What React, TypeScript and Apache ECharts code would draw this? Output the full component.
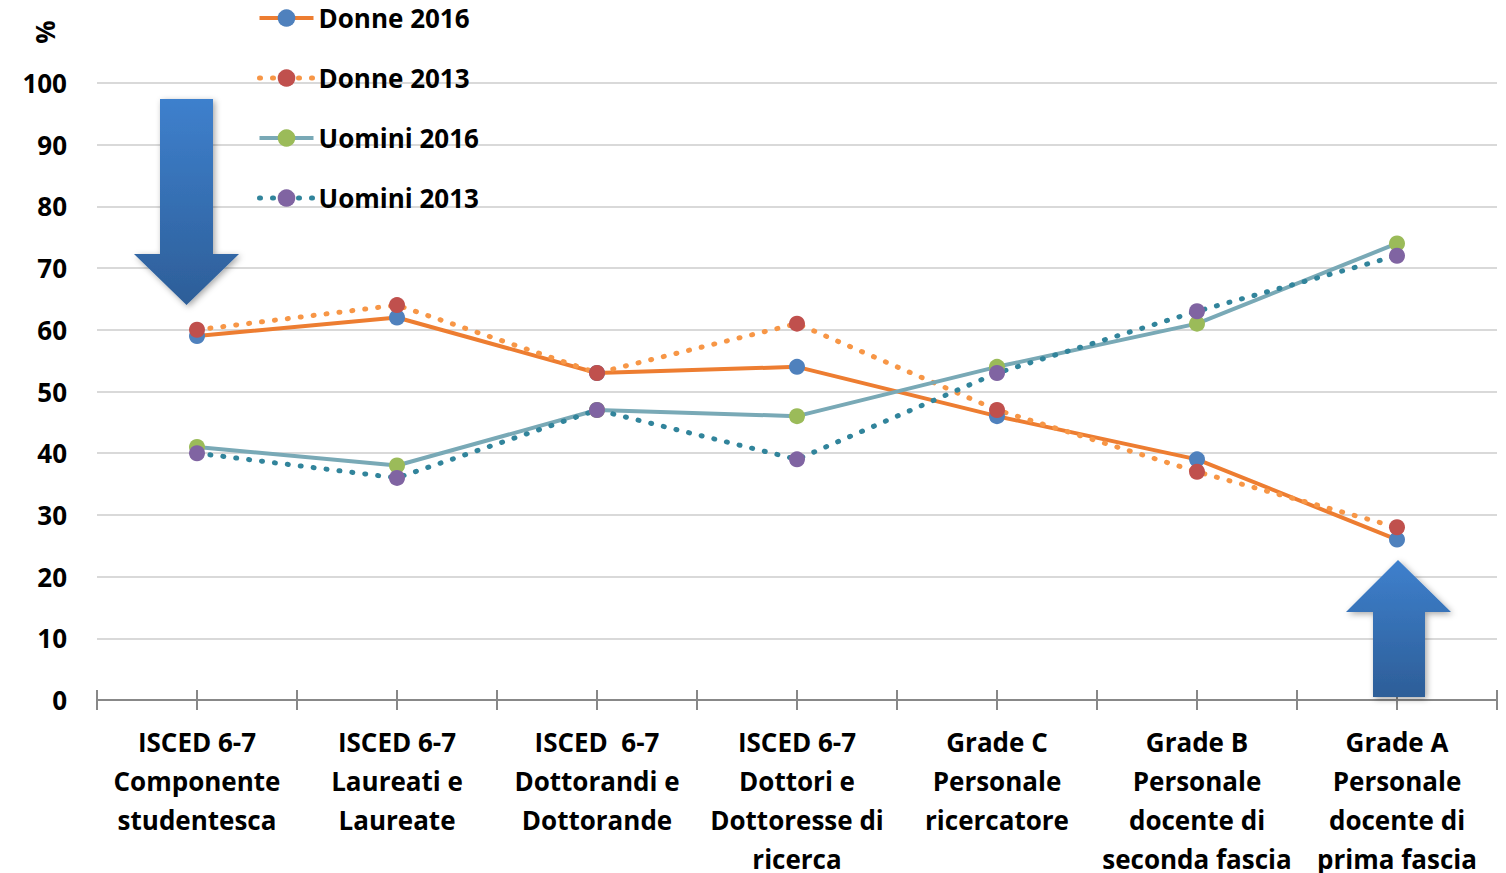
import React, { useEffect, useRef } from "react";
import * as echarts from "echarts";

const categories = [
  "ISCED 6-7\nComponente\nstudentesca",
  "ISCED 6-7\nLaureati e\nLaureate",
  "ISCED  6-7\nDottorandi e\nDottorande",
  "ISCED 6-7\nDottori e\nDottoresse di\nricerca",
  "Grade C\nPersonale\nricercatore",
  "Grade B\nPersonale\ndocente di\nseconda fascia",
  "Grade A\nPersonale\ndocente di\nprima fascia",
];
const donne2016 = [59, 62, 53, 54, 46, 39, 26];
const donne2013 = [60, 64, 53, 61, 47, 37, 28];
const uomini2016 = [41, 38, 47, 46, 54, 61, 74];
const uomini2013 = [40, 36, 47, 39, 53, 63, 72];
const seriesNames = ["Donne 2016", "Donne 2013", "Uomini 2016", "Uomini 2013"];

const FONT = "'Open Sans', 'Noto Sans', sans-serif";

const arrowFill = {
  type: "linear",
  x: 0,
  y: 0,
  x2: 0,
  y2: 1,
  colorStops: [
    { offset: 0, color: "#3e80cd" },
    { offset: 1, color: "#2d5e98" },
  ],
};

export default function App() {
  const ref = useRef<HTMLDivElement>(null);
  useEffect(() => {
    if (!ref.current) return;
    const chart = echarts.init(ref.current, null, { renderer: "svg" });
    const dotted = (color: string) => ({
      color,
      width: 5,
      type: [1, 12],
      cap: "round",
    });
    const solid = (color: string) => ({ color, width: 4, type: "solid" });
    const lines = [
      solid("#ed7d31"),
      dotted("#f79646"),
      solid("#79a9b6"),
      dotted("#31849b"),
    ];
    const markers = ["#4f81bd", "#c0504d", "#9bbb59", "#8064a2"];
    const datasets = [donne2016, donne2013, uomini2016, uomini2013];
    const tickAxis = (align: boolean) => ({
      type: "category",
      data: categories,
      position: "bottom",
      offset: -10,
      boundaryGap: true,
      axisLine: { show: false },
      axisLabel: { show: false },
      axisTick: {
        show: true,
        interval: 0,
        alignWithLabel: align,
        length: 20,
        lineStyle: { color: "#888888", width: 2 },
      },
    });
    chart.setOption({
      animation: false,
      grid: {
        left: 97,
        right: 9,
        top: 83,
        bottom: 173,
        containLabel: false,
        outerBoundsMode: "none",
      },
      legend: {
        orient: "vertical",
        left: 257,
        top: 3,
        padding: 0,
        itemWidth: 54,
        itemHeight: 22,
        itemGap: 30,
        data: seriesNames.map((name, i) => ({
          name,
          lineStyle: { ...lines[i] },
          itemStyle: { color: markers[i] },
        })),
        textStyle: {
          fontFamily: FONT,
          fontSize: 26,
          fontWeight: "bold",
          color: "#000",
          lineHeight: 30,
        },
      },
      xAxis: [
        {
          type: "category",
          data: categories,
          boundaryGap: true,
          axisLine: { show: true, lineStyle: { color: "#888888", width: 2 } },
          axisTick: { show: false },
          axisLabel: {
            interval: 0,
            margin: 22,
            fontFamily: FONT,
            fontSize: 26,
            fontWeight: "bold",
            color: "#000",
            lineHeight: 39,
          },
        },
        tickAxis(false),
        tickAxis(true),
      ],
      yAxis: {
        type: "value",
        min: 0,
        max: 100,
        interval: 10,
        axisLine: { show: false },
        axisTick: { show: false },
        splitLine: { lineStyle: { color: "#d9d9d9", width: 2 } },
        axisLabel: {
          margin: 30,
          fontFamily: FONT,
          fontSize: 26,
          fontWeight: "bold",
          color: "#000",
        },
      },
      graphic: [
        {
          type: "text",
          x: 45,
          y: 32,
          rotation: Math.PI / 2,
          style: {
            text: "%",
            fontFamily: FONT,
            fontSize: 26,
            fontWeight: "bold",
            fill: "#000",
            align: "center",
            verticalAlign: "middle",
          },
        },
        {
          type: "polygon",
          shape: {
            points: [
              [160, 99],
              [213, 99],
              [213, 254],
              [239, 254],
              [186.5, 305],
              [134, 254],
              [160, 254],
            ],
          },
          style: {
            fill: arrowFill,
            shadowBlur: 6,
            shadowColor: "rgba(0,0,0,0.35)",
            shadowOffsetX: 2,
            shadowOffsetY: 2,
          },
          z: 1,
        },
        {
          type: "polygon",
          shape: {
            points: [
              [1398, 560],
              [1451, 612],
              [1425, 612],
              [1425, 697],
              [1373, 697],
              [1373, 612],
              [1346, 612],
            ],
          },
          style: {
            fill: arrowFill,
            shadowBlur: 6,
            shadowColor: "rgba(0,0,0,0.35)",
            shadowOffsetX: 2,
            shadowOffsetY: 2,
          },
          z: 1,
        },
      ],
      series: seriesNames.map((name, i) => ({
        name,
        type: "line",
        data: datasets[i],
        symbol: "circle",
        symbolSize: 16,
        lineStyle: lines[i],
        itemStyle: { color: markers[i] },
      })),
    });
    return () => chart.dispose();
  }, []);
  return (
    <div
      ref={ref}
      style={{ position: "fixed", left: 0, top: 0, width: 1506, height: 873, background: "#fff" }}
    />
  );
}
